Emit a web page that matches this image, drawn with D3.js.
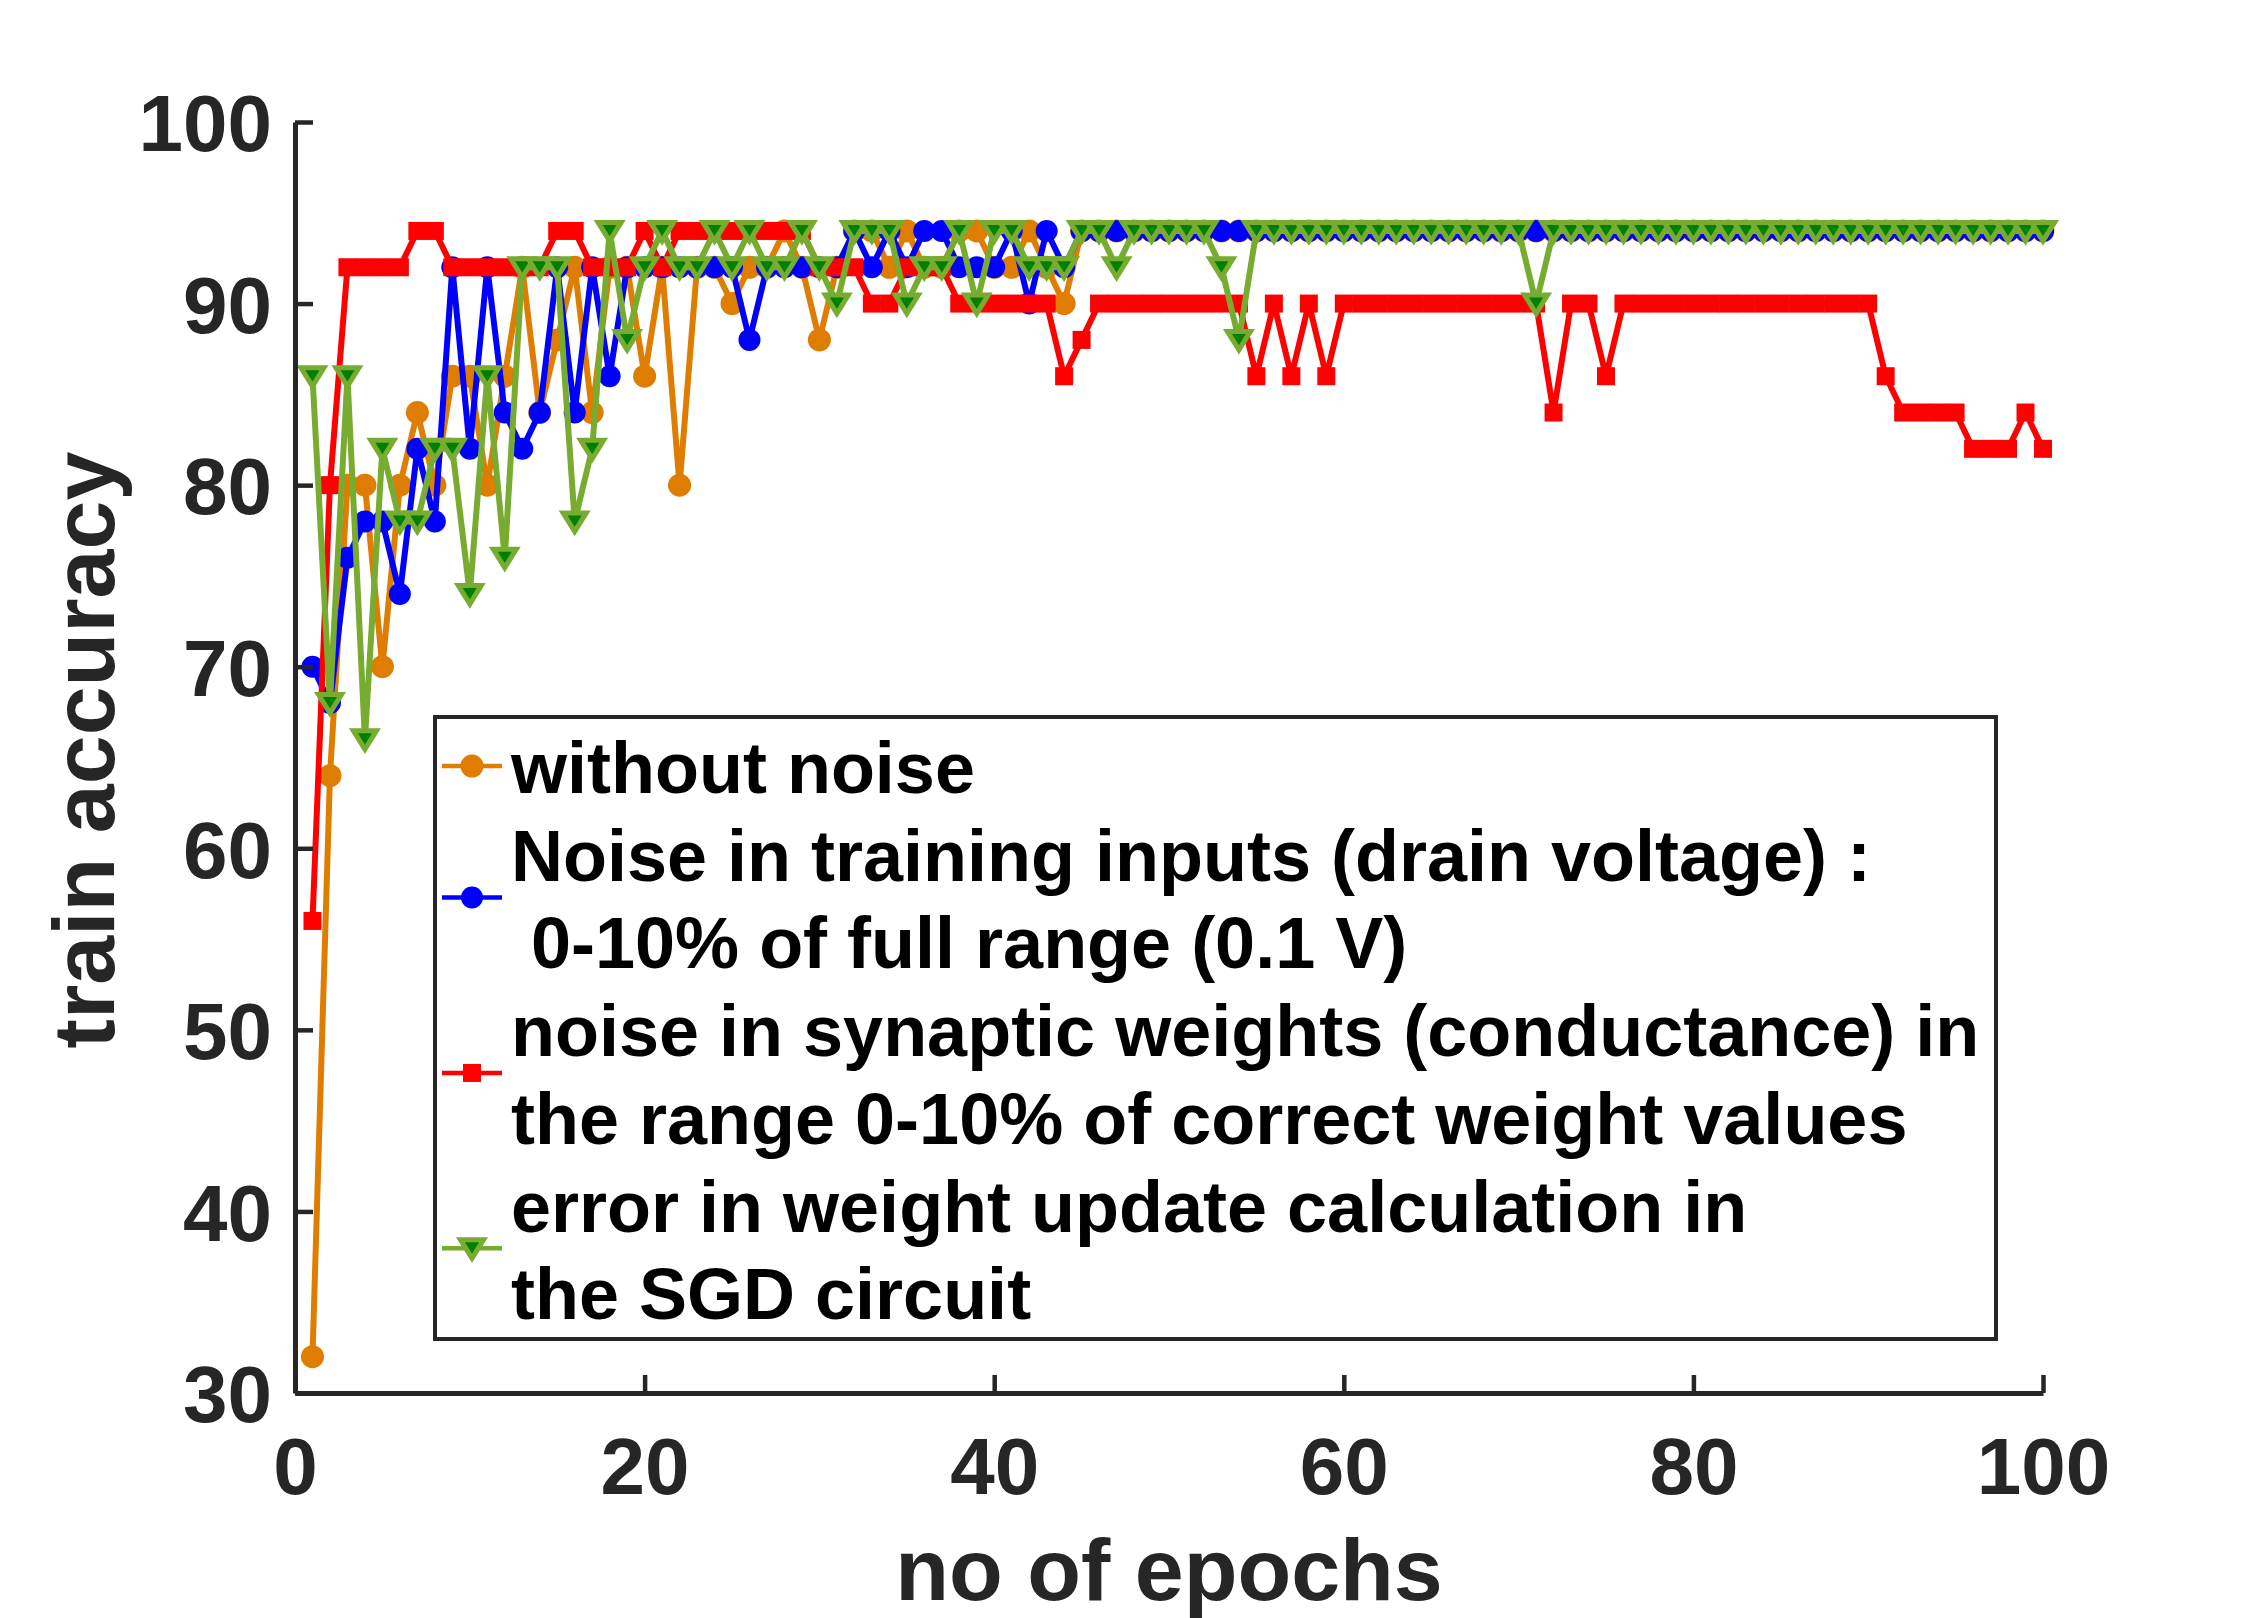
<!DOCTYPE html>
<html>
<head>
<meta charset="utf-8">
<script src="https://cdn.jsdelivr.net/npm/d3@7"></script>
<style>
  html, body { margin: 0; padding: 0; background: #fff; }
  svg { display: block; }
</style>
</head>
<body>
<svg id="chart" width="2256" height="1618"></svg>
<script>
// ---------------- data ----------------
const xTicks = [0, 20, 40, 60, 80, 100];
const yTicks = [30, 40, 50, 60, 70, 80, 90, 100];
const xLabel = "no of epochs";
const yLabel = "train accuracy";

const withoutNoise = [
  32, 64, 80, 80, 70, 80, 84, 80, 86, 86,
  80, 86, 92, 84, 88, 92, 84, 92, 92, 86,
  92, 80, 92, 92, 90, 92, 92, 94, 92, 88,
  92, 94, 94, 92, 94, 92, 92, 94, 94, 92,
  92, 94, 92, 90, 94, 94, 94, 94, 94, 94,
  94, 94, 94, 94, 94, 94, 94, 94, 94, 94,
  94, 94, 94, 94, 94, 94, 94, 94, 94, 94,
  94, 94, 94, 94, 94, 94, 94, 94, 94, 94,
  94, 94, 94, 94, 94, 94, 94, 94, 94, 94,
  94, 94, 94, 94, 94, 94, 94, 94, 94, 94
];
const inputNoise = [
  70, 68, 76, 78, 78, 74, 82, 78, 92, 82,
  92, 84, 82, 84, 92, 84, 92, 86, 92, 92,
  92, 92, 92, 92, 92, 88, 92, 92, 92, 92,
  92, 94, 92, 94, 92, 94, 94, 92, 92, 92,
  94, 90, 94, 92, 94, 94, 94, 94, 94, 94,
  94, 94, 94, 94, 94, 94, 94, 94, 94, 94,
  94, 94, 94, 94, 94, 94, 94, 94, 94, 94,
  94, 94, 94, 94, 94, 94, 94, 94, 94, 94,
  94, 94, 94, 94, 94, 94, 94, 94, 94, 94,
  94, 94, 94, 94, 94, 94, 94, 94, 94, 94
];
const weightNoise = [
  56, 80, 92, 92, 92, 92, 94, 94, 92, 92,
  92, 92, 92, 92, 94, 94, 92, 92, 92, 94,
  92, 94, 94, 94, 94, 94, 94, 94, 94, 92,
  92, 92, 90, 90, 92, 92, 92, 90, 90, 90,
  90, 90, 90, 86, 88, 90, 90, 90, 90, 90,
  90, 90, 90, 90, 86, 90, 86, 90, 86, 90,
  90, 90, 90, 90, 90, 90, 90, 90, 90, 90,
  90, 84, 90, 90, 86, 90, 90, 90, 90, 90,
  90, 90, 90, 90, 90, 90, 90, 90, 90, 90,
  86, 84, 84, 84, 84, 82, 82, 82, 84, 82
];
const sgdError = [
  86, 68, 86, 66, 82, 78, 78, 82, 82, 74,
  86, 76, 92, 92, 92, 78, 82, 94, 88, 92,
  94, 92, 92, 94, 92, 94, 92, 92, 94, 92,
  90, 94, 94, 94, 90, 92, 92, 94, 90, 94,
  94, 92, 92, 92, 94, 94, 92, 94, 94, 94,
  94, 94, 92, 88, 94, 94, 94, 94, 94, 94,
  94, 94, 94, 94, 94, 94, 94, 94, 94, 94,
  90, 94, 94, 94, 94, 94, 94, 94, 94, 94,
  94, 94, 94, 94, 94, 94, 94, 94, 94, 94,
  94, 94, 94, 94, 94, 94, 94, 94, 94, 94
];

const legendLines = [
  ["without noise"],
  ["Noise in training inputs (drain voltage) :", " 0-10% of full range (0.1 V)"],
  ["noise in synaptic weights (conductance) in", "the range 0-10% of correct weight values"],
  ["error in weight update calculation in", "the SGD circuit"]
];

// ---------------- setup ----------------
const svg = d3.select("#chart");
const FONT = "'Liberation Sans', Arial, Helvetica, sans-serif";
const AX = "#262626";

const x = d3.scaleLinear().domain([0, 100]).range([295, 2043]);
const y = d3.scaleLinear().domain([30, 100]).range([1393, 122]);

const series = [
  { values: withoutNoise, color: "#DE7D00", marker: "circle", r: 11.5 },
  { values: inputNoise, color: "#0000FF", marker: "circle", r: 11 },
  { values: weightNoise, color: "#FF0000", marker: "square", s: 18 },
  { values: sgdError, color: "#77AC30", fill: "#008000", marker: "tri" }
];

function drawMarker(g, s, cx, cy) {
  if (s.marker === "circle") {
    g.append("circle").attr("cx", cx).attr("cy", cy).attr("r", s.r)
      .attr("fill", s.color);
  } else if (s.marker === "square") {
    g.append("rect").attr("x", cx - s.s / 2).attr("y", cy - s.s / 2)
      .attr("width", s.s).attr("height", s.s).attr("fill", s.color);
  } else {
    g.append("path")
      .attr("d", `M${cx - 11.5},${cy - 8.5}L${cx + 11.5},${cy - 8.5}L${cx},${cy + 10}Z`)
      .attr("fill", s.fill).attr("stroke", s.color).attr("stroke-width", 5)
      .attr("stroke-linejoin", "miter");
  }
}

// ---------------- series ----------------
const line = d3.line().x((d, i) => x(i + 1)).y(d => y(d));
const plot = svg.append("g");
series.forEach(s => {
  const g = plot.append("g");
  g.append("path").datum(s.values).attr("d", line)
    .attr("fill", "none").attr("stroke", s.color).attr("stroke-width", 6)
    .attr("stroke-linejoin", "round");
  s.values.forEach((v, i) => drawMarker(g, s, x(i + 1), y(v)));
});

// ---------------- axes ----------------
const yAxis = d3.axisLeft(y).tickValues(yTicks).tickSizeInner(-18).tickSizeOuter(0).tickPadding(23);
const xAxis = d3.axisBottom(x).tickValues(xTicks).tickSizeInner(-18).tickSizeOuter(0).tickPadding(44);

const gy = svg.append("g").attr("transform", "translate(295,0)").call(yAxis);
const gx = svg.append("g").attr("transform", "translate(0,1393)").call(xAxis);

[gx, gy].forEach(g => {
  g.select(".domain").attr("stroke", AX).attr("stroke-width", 5);
  g.selectAll(".tick line").attr("stroke", AX).attr("stroke-width", 4.5);
  g.selectAll(".tick text").attr("fill", AX).attr("font-family", FONT)
    .attr("font-weight", "bold").attr("font-size", 80);
  g.attr("font-family", null).attr("font-size", null);
});
gy.selectAll(".tick text").attr("dy", "0.36em");

// axis labels
svg.append("text").attr("x", 1169).attr("y", 1600).attr("text-anchor", "middle")
  .attr("font-family", FONT).attr("font-weight", "bold").attr("font-size", 88)
  .attr("fill", AX).text(xLabel);
svg.append("text").attr("transform", "translate(114,750) rotate(-90)")
  .attr("text-anchor", "middle")
  .attr("font-family", FONT).attr("font-weight", "bold").attr("font-size", 88)
  .attr("fill", AX).text(yLabel);

// ---------------- legend ----------------
const leg = svg.append("g");
leg.append("rect").attr("x", 435).attr("y", 717).attr("width", 1561).attr("height", 622)
  .attr("fill", "#fff").attr("stroke", AX).attr("stroke-width", 4);

const lineH = 87.7;
let baseline = 793;
series.forEach((s, k) => {
  const lines = legendLines[k];
  const first = baseline;
  lines.forEach(t => {
    leg.append("text").attr("x", 511).attr("y", baseline)
      .attr("font-family", FONT).attr("font-weight", "bold").attr("font-size", 72)
      .attr("fill", "#000").style("white-space", "pre").text(t);
    baseline += lineH;
  });
  const last = baseline - lineH;
  const my = (first + last) / 2 - 27;
  leg.append("line").attr("x1", 442).attr("x2", 502).attr("y1", my).attr("y2", my)
    .attr("stroke", s.color).attr("stroke-width", 4.5);
  drawMarker(leg, s, 472, my);
});
</script>
</body>
</html>
